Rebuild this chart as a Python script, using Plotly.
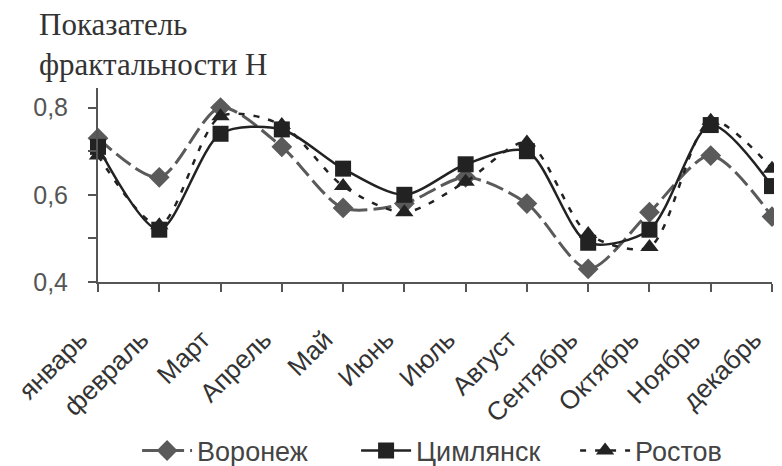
import plotly.graph_objects as go

months = ["январь", "февраль", "Март", "Апрель", "Май", "Июнь", "Июль",
          "Август", "Сентябрь", "Октябрь", "Ноябрь", "декабрь"]
voronezh = [0.73, 0.64, 0.80, 0.71, 0.57, 0.58, 0.64, 0.58, 0.43, 0.56, 0.69, 0.55]
tsimlyansk = [0.71, 0.52, 0.74, 0.75, 0.66, 0.60, 0.67, 0.70, 0.49, 0.52, 0.76, 0.62]
rostov = [0.69, 0.53, 0.78, 0.76, 0.62, 0.56, 0.63, 0.72, 0.51, 0.48, 0.77, 0.66]
ytick_vals = [0.4, 0.5, 0.6, 0.7, 0.8]
ytick_text = ["0,4", "", "0,6", "", "0,8"]

x = list(range(len(months)))

fig = go.Figure()
fig.add_trace(go.Scatter(
    x=x, y=voronezh, name="Воронеж", mode="lines+markers",
    line=dict(color="#5a5a5a", width=3, dash="18px,6px", shape="spline", smoothing=0.8),
    marker=dict(symbol="diamond", size=16, color="#5a5a5a"),
    cliponaxis=False))
fig.add_trace(go.Scatter(
    x=x, y=tsimlyansk, name="Цимлянск", mode="lines+markers",
    line=dict(color="#222222", width=2.5, shape="spline", smoothing=0.8),
    marker=dict(symbol="square", size=16, color="#222222"),
    cliponaxis=False))
fig.add_trace(go.Scatter(
    x=x, y=rostov, name="Ростов", mode="lines+markers",
    line=dict(color="#222222", width=2.5, dash="6px,9px", shape="spline", smoothing=0.8),
    marker=dict(symbol="triangle-up", size=16, color="#222222"),
    cliponaxis=False))

fig.update_layout(
    width=774, height=458,
    margin=dict(l=90, r=10, t=80, b=184, autoexpand=False),
    plot_bgcolor="white", paper_bgcolor="white",
    font=dict(family="Liberation Sans, Arial, sans-serif", color="#444444", size=18),
    showlegend=True,
    legend=dict(orientation="h", xref="paper", yref="paper",
                x=0.058, xanchor="left", y=-0.871, yanchor="middle",
                itemwidth=50, entrywidth=154, entrywidthmode="pixels",
                bgcolor="rgba(0,0,0,0)",
                font=dict(family="Liberation Sans, Arial, sans-serif",
                          size=27, color="#444444")),
    annotations=[dict(text="Показатель<br>фрактальности Н", xref="paper", yref="paper",
                      x=-0.09, y=1.43, xanchor="left", yanchor="top", showarrow=False,
                      align="left",
                      font=dict(family="Liberation Serif, Times New Roman, serif",
                                size=31, color="#333333"))],
)
fig.update_xaxes(
    tickmode="array", tickvals=x, ticktext=months, tickangle=-45,
    range=[0, 11], showgrid=False, zeroline=False,
    showline=True, linecolor="#555555", linewidth=2,
    ticks="outside", ticklen=8, tickwidth=2, tickcolor="#555555",
    ticklabelshift=-18, ticklabelstandoff=22, ticklabeloverflow="allow",
    tickfont=dict(size=26, color="#333333"))
fig.update_yaxes(
    range=[0.4, 0.845], tickmode="array", tickvals=ytick_vals, ticktext=ytick_text,
    showgrid=False, zeroline=False,
    showline=True, linecolor="#555555", linewidth=2,
    ticks="outside", ticklen=8, tickwidth=2, tickcolor="#555555",
    ticklabelstandoff=15,
    tickfont=dict(size=25, color="#555555"))

fig.write_html("out.html")
